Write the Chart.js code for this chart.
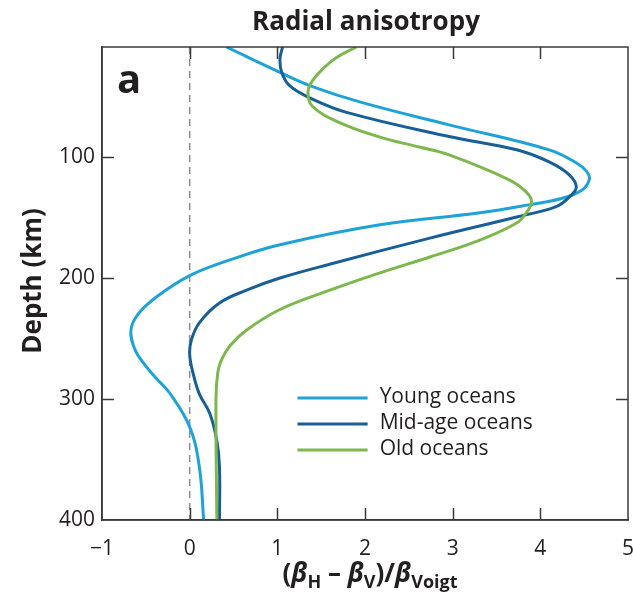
<!DOCTYPE html>
<html><head><meta charset="utf-8">
<script src="https://cdn.jsdelivr.net/npm/chart.js@4/dist/chart.umd.min.js"></script>
<style>html,body{margin:0;padding:0;background:#fff}#wrap{width:633px;height:593px;position:relative}</style>
</head><body><div id="wrap"><canvas id="c" width="633" height="593"></canvas></div>
<script>
const chartTitle = 'Radial anisotropy';
const panelLabel = 'a';
const yAxisTitle = 'Depth (km)';
const seriesNames = ['Young oceans', 'Mid-age oceans', 'Old oceans'];
const seriesColors = ['#1ea3d8', '#185f98', '#7cb84e'];

const youngDepth = [9, 30, 41.7, 55, 73.4, 94, 104.7, 112, 118, 127, 134, 139.7, 146, 156, 172.5, 185, 198, 215.7, 230, 243, 258, 270, 282.2, 294.8, 323, 356, 400];
const youngValue = [0.42, 1.03, 1.40, 1.97, 2.96, 4.10, 4.41, 4.53, 4.56, 4.48, 4.25, 3.85, 3.31, 2.17, 1.03, 0.46, 0.00, -0.38, -0.59, -0.67, -0.63, -0.53, -0.39, -0.23, 0.00, 0.11, 0.16];

const midDepth = [9, 19, 30, 41, 51, 63, 83, 94, 104, 114.7, 125, 133, 141, 149.5, 167, 187.6, 200, 210, 220.6, 237, 251, 263, 279, 295.7, 312, 334.5, 356, 400];
const midValue = [1.06, 1.03, 1.05, 1.14, 1.37, 1.79, 2.96, 3.73, 4.10, 4.33, 4.41, 4.33, 4.18, 3.73, 2.74, 1.65, 1.03, 0.65, 0.34, 0.11, 0.02, 0.00, 0.04, 0.11, 0.23, 0.31, 0.34, 0.34];

const oldDepth = [9, 17.5, 27, 38, 46.5, 58, 71.5, 83.5, 91.7, 98.2, 119, 129, 137, 146, 154.5, 168.6, 182.6, 195.7, 210, 226, 243, 256, 268, 278.5, 300, 400];
const oldValue = [1.90, 1.68, 1.52, 1.39, 1.35, 1.40, 1.71, 2.17, 2.62, 2.96, 3.65, 3.84, 3.90, 3.84, 3.73, 3.31, 2.74, 2.17, 1.60, 1.03, 0.65, 0.46, 0.36, 0.32, 0.30, 0.31];

const xTicks = [-1, 0, 1, 2, 3, 4, 5];
const yTicks = [100, 200, 300, 400];
const refLineX = [0, 0];
const refLineDepth = [9, 400];

const FONT = "'Open Sans', 'Noto Sans', sans-serif";
const TXT = '#231f20';
const AX = '#3a3a3a';

function pts(xs, ys) { return xs.map((x, i) => ({ x: x, y: ys[i] })); }

const curves = [
  { v: youngValue, d: youngDepth },
  { v: midValue, d: midDepth },
  { v: oldValue, d: oldDepth }
];

const datasets = [{
  label: 'zero',
  data: pts(refLineX, refLineDepth),
  borderColor: '#8c8c8c',
  borderWidth: 1.5,
  borderDash: [7, 5],
  pointRadius: 0,
  showLine: true,
  fill: false,
  order: 5
}].concat(curves.map((c, i) => ({
  label: seriesNames[i],
  data: pts(c.v, c.d),
  borderColor: seriesColors[i],
  borderWidth: 3,
  pointRadius: 0,
  showLine: true,
  fill: false,
  tension: 0.4,
  order: 3 - i
})));

const decor = {
  id: 'decor',
  afterDraw(chart) {
    const ctx = chart.ctx, a = chart.chartArea;
    const xs = chart.scales.x, ys = chart.scales.y;
    ctx.save();
    ctx.strokeStyle = AX; ctx.lineWidth = 1.5;
    ctx.strokeRect(a.left, a.top, a.right - a.left, a.bottom - a.top);
    const TL = 12;
    ctx.beginPath();
    xTicks.forEach(v => {
      const px = Math.round(xs.getPixelForValue(v)) + 0.5;
      if (px <= a.left + 1 || px >= a.right - 1) return;
      ctx.moveTo(px, a.bottom); ctx.lineTo(px, a.bottom - TL);
      ctx.moveTo(px, a.top); ctx.lineTo(px, a.top + TL);
    });
    yTicks.forEach(v => {
      const py = Math.round(ys.getPixelForValue(v)) + 0.5;
      if (py <= a.top + 1 || py >= a.bottom - 1) return;
      ctx.moveTo(a.left, py); ctx.lineTo(a.left + TL, py);
      ctx.moveTo(a.right, py); ctx.lineTo(a.right - TL, py);
    });
    ctx.stroke();

    ctx.fillStyle = TXT;
    ctx.font = "bold 26px " + FONT;
    ctx.textAlign = 'center'; ctx.textBaseline = 'alphabetic';
    ctx.fillText(chartTitle, 366, 30);
    ctx.font = "bold 40px " + FONT;
    ctx.textAlign = 'left';
    ctx.fillText(panelLabel, a.left + 15, a.top + 46);
    ctx.save();
    ctx.translate(34, 281);
    ctx.rotate(-Math.PI / 2);
    ctx.font = "bold 26px " + FONT;
    ctx.textAlign = 'center'; ctx.textBaseline = 'middle';
    ctx.fillText(yAxisTitle, 0, 0);
    ctx.restore();
    const big = 26, small = 18;
    const parts = [
      ['(', 'bold ' + big + 'px ' + FONT, 0],
      ['\u03B2', 'italic bold ' + big + 'px ' + FONT, 0],
      ['H', 'bold ' + small + 'px ' + FONT, 6],
      [' \u2013 ', 'bold ' + big + 'px ' + FONT, 0],
      ['\u03B2', 'italic bold ' + big + 'px ' + FONT, 0],
      ['V', 'bold ' + small + 'px ' + FONT, 6],
      [')/', 'bold ' + big + 'px ' + FONT, 0],
      ['\u03B2', 'italic bold ' + big + 'px ' + FONT, 0],
      ['Voigt', 'bold ' + small + 'px ' + FONT, 6]
    ];
    let total = 0;
    parts.forEach(p => { ctx.font = p[1]; total += ctx.measureText(p[0]).width; });
    let cx = 370 - total / 2;
    const base = 582;
    ctx.textAlign = 'left';
    parts.forEach(p => { ctx.font = p[1]; ctx.fillText(p[0], cx, base + p[2]); cx += ctx.measureText(p[0]).width; });
    const lx0 = xs.getPixelForValue(1.23), lx1 = xs.getPixelForValue(2.03);
    const legY = [398, 424, 450];
    ctx.font = "21px " + FONT;
    ctx.textBaseline = 'middle';
    seriesNames.forEach((n, i) => {
      ctx.strokeStyle = seriesColors[i]; ctx.lineWidth = 3;
      ctx.beginPath(); ctx.moveTo(lx0, legY[i]); ctx.lineTo(lx1, legY[i]); ctx.stroke();
      ctx.fillStyle = TXT;
      ctx.fillText(n, lx1 + 12, legY[i] - 1);
    });
    ctx.restore();
  }
};

new Chart(document.getElementById('c'), {
  type: 'scatter',
  data: { datasets: datasets },
  options: {
    responsive: false,
    animation: false,
    devicePixelRatio: 1,
    layout: { padding: { top: 47, right: 5, left: 0, bottom: 0 } },
    plugins: { legend: { display: false }, title: { display: false }, tooltip: { enabled: false } },
    scales: {
      x: {
        type: 'linear', min: -1, max: 5,
        afterBuildTicks: s => { s.ticks = xTicks.map(v => ({ value: v })); },
        afterFit: s => { s.height = 73; s.paddingLeft = 0; s.paddingRight = 0; },
        ticks: { font: { family: FONT, size: 21 }, color: TXT, padding: 16, maxRotation: 0,
          callback: v => (v < 0 ? '\u2212' + Math.abs(v) : String(v)) },
        grid: { drawOnChartArea: false, drawTicks: false, tickLength: 0 },
        border: { display: true, color: AX, width: 1.5 }
      },
      y: {
        type: 'linear', reverse: true, min: 9, max: 400,
        afterBuildTicks: s => { s.ticks = yTicks.map(v => ({ value: v })); },
        afterFit: s => { s.width = 102; s.paddingTop = 0; s.paddingBottom = 0; },
        ticks: { font: { family: FONT, size: 21 }, color: TXT, padding: 7 },
        grid: { drawOnChartArea: false, drawTicks: false, tickLength: 0 },
        border: { display: true, color: AX, width: 1.5 }
      }
    }
  },
  plugins: [decor]
});
</script>
</body></html>
